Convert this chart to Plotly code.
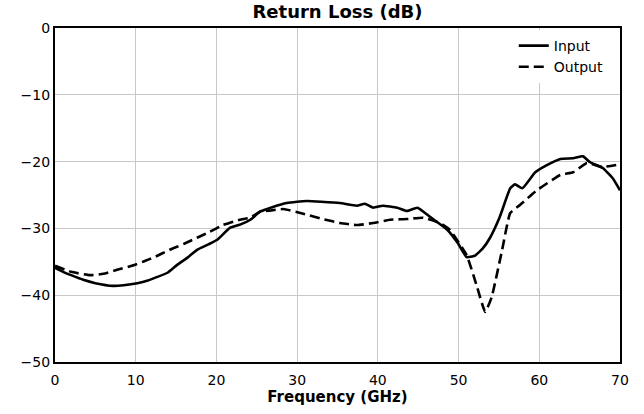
import plotly.graph_objects as go

# Input return loss (solid)
input_freq = [0, 1, 2, 3.5, 5, 7.2, 8.5, 10.2, 11.5, 12.6, 14, 15.1, 16.5, 17.6, 19, 20.1, 21.7, 23, 24.2, 25.4, 27, 28.7, 30, 31.2, 33, 35.3, 37.4, 38.4, 39.4, 40.6, 42.4, 43.6, 44.9, 46.5, 48.6, 49.9, 51, 52, 53, 53.9, 55.1, 56.4, 57, 57.9, 59.5, 61, 62.6, 64.2, 65.4, 66.3, 67.9, 69.1, 70]
input_db = [-35.9, -36.5, -37.0, -37.7, -38.2, -38.6, -38.5, -38.2, -37.8, -37.3, -36.6, -35.5, -34.3, -33.2, -32.4, -31.7, -29.9, -29.4, -28.7, -27.5, -26.8, -26.2, -26.0, -25.9, -26.0, -26.2, -26.6, -26.3, -26.9, -26.6, -26.9, -27.4, -26.9, -28.3, -30.2, -32.2, -34.3, -34.1, -33.0, -31.4, -28.3, -24.0, -23.4, -24.0, -21.6, -20.5, -19.6, -19.5, -19.2, -20.1, -21.0, -22.5, -24.3]

# Output return loss (dashed)
output_freq = [0, 2, 4.3, 6, 7.7, 9.5, 10.9, 12.5, 14.2, 16, 17.6, 19.2, 20.8, 22.9, 24.2, 25.4, 26.8, 28.3, 30.4, 33.2, 35.3, 37.4, 39.4, 41.5, 43.6, 45.6, 47.7, 48.9, 51, 52.3, 53.3, 54.1, 55.4, 56.4, 57.6, 59.7, 62.6, 64.2, 65.9, 67.8, 70]
output_db = [-35.6, -36.5, -37.0, -36.8, -36.2, -35.6, -35.0, -34.2, -33.2, -32.3, -31.4, -30.5, -29.5, -28.7, -28.4, -27.5, -27.3, -27.1, -27.7, -28.6, -29.2, -29.5, -29.2, -28.7, -28.6, -28.4, -29.2, -30.2, -34.0, -38.8, -42.5, -40.3, -33.2, -27.7, -26.5, -24.3, -22.0, -21.6, -20.2, -20.8, -20.4]

x_ticks = [0, 10, 20, 30, 40, 50, 60, 70]
y_ticks = [0, -10, -20, -30, -40, -50]

fig = go.Figure()
fig.add_trace(go.Scatter(x=input_freq, y=input_db, mode="lines", name="Input",
                         line=dict(color="black", width=2.6, shape="spline", smoothing=0.4)))
fig.add_trace(go.Scatter(x=output_freq, y=output_db, mode="lines", name="Output",
                         line=dict(color="black", width=2.6, dash="10px,5px", shape="spline", smoothing=0.4)))

axis_common = dict(showline=True, linecolor="black", linewidth=2.2, mirror=True,
                   showgrid=True, gridcolor="#c8c8c8", gridwidth=1, zeroline=False,
                   ticks="", automargin=False,
                   tickfont=dict(family="DejaVu Sans", size=14, color="black"))

fig.update_layout(
    width=644, height=414,
    margin=dict(l=55, r=24, t=28, b=52),
    paper_bgcolor="white", plot_bgcolor="white",
    font=dict(family="DejaVu Sans", color="black"),
    title=dict(text="<b>Return Loss (dB)</b>", x=0.5, xanchor="center", xref="paper",
               y=0.971, yanchor="middle", font=dict(size=18, family="DejaVu Sans")),
    xaxis=dict(range=[0, 70], tickvals=x_ticks, ticklabelstandoff=4,
               title=dict(text="<b>Frequency (GHz)</b>", font=dict(size=15), standoff=4),
               **axis_common),
    yaxis=dict(range=[-50, 0], tickvals=y_ticks, tickformat="d", **axis_common),
    legend=dict(x=0.812, y=0.994, xanchor="left", yanchor="top", bgcolor="white",
                font=dict(size=14, family="DejaVu Sans"), tracegroupgap=0),
    showlegend=True,
)

fig.write_html("out.html",
               config={"displayModeBar": False},
               post_script="document.body.style.margin='0';document.body.style.overflow='hidden';")
